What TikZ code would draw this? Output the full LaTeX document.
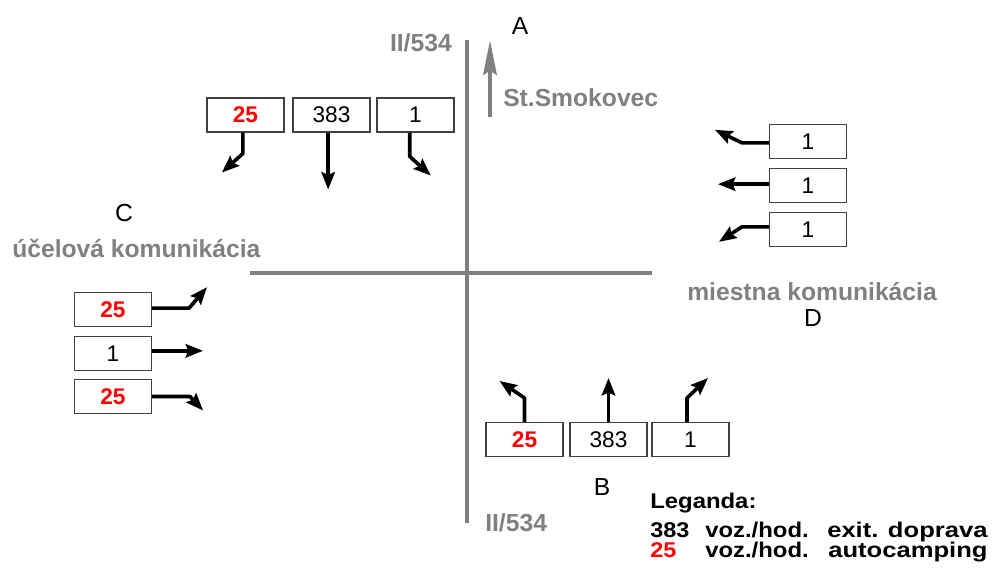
\documentclass[tikz,border=0pt]{standalone}
\usepackage{fontspec}
\usepackage{graphicx}
\setmainfont{Liberation Sans}
\usetikzlibrary{arrows.meta}
\definecolor{roadgray}{RGB}{128,128,128}
\definecolor{numred}{RGB}{255,0,0}
\begin{document}
\begin{tikzpicture}[x=0.75pt,y=-0.75pt,
 box/.style={draw=black!75, line width=0.8pt, minimum width=57.75pt, minimum height=25.5pt, inner sep=0pt, fill=white, font=\fontsize{17}{20}\selectfont},
 redn/.style={text=numred, font=\fontsize{17}{20}\selectfont\bfseries},
 flow/.style={line width=2.7pt, -{Stealth[length=13pt,width=10pt,inset=2pt]}, line join=round},
 road/.style={draw=roadgray, line width=3.2pt},
 glabel/.style={text=roadgray, font=\fontsize{18.5}{22}\selectfont\bfseries, inner sep=0pt},
 letter/.style={font=\fontsize{18.5}{22}\selectfont, inner sep=0pt},
 legtext/.style={font=\fontsize{16}{18}\selectfont\bfseries, inner sep=0pt, anchor=base west, text height=11.5pt, text depth=2.5pt},
]
\useasboundingbox (0,0) rectangle (997,568);
% roads
\coordinate (vtop) at (467,40);
\coordinate (vbot) at (467,523);
\coordinate (hl) at (250,273);
\coordinate (hr) at (652,273);
\draw[road] (vtop) -- (vbot);
\draw[road] (hl) -- (hr);
% direction arrow to St.Smokovec
\coordinate (gs) at (490,117);
\coordinate (ge) at (490,40);
\draw[draw=roadgray, fill=roadgray, line width=3.5pt, -{Stealth[length=26pt,width=10pt,inset=3pt]}] (gs) -- (ge);
% labels
\node[glabel, anchor=east] (iitop) at (452,43) {II/534};
\node[glabel, anchor=west] (iibot) at (485,523) {II/534};
\node[letter] (A) at (520,26) {A};
\node[glabel, anchor=west] (smok) at (503,98) {St.Smokovec};
\node[letter] (C) at (124,213) {C};
\node[glabel, anchor=west] (ucel) at (12,248) {účelová komunikácia};
\node[glabel, anchor=west] (mies) at (687,292) {miestna komunikácia};
\node[letter] (D) at (813,318) {D};
\node[letter] (B) at (602,487) {B};
% top boxes (A)
\node[box, redn] (t1) at (245.5,115) {25};
\node[box] (t2) at (331.5,115) {383};
\node[box] (t3) at (415.5,115) {1};
\draw[flow] ([xshift=-2pt]t1.south) -- ++(0,21) -- ++(-21,19);
\draw[flow] ([xshift=-2.5pt]t2.south) -- ++(0,57);
\draw[flow] ([xshift=-4.3pt]t3.south) -- ++(0,24) -- ++(21,19);
% right boxes (D)
\node[box] (r1) at (808,141.5) {1};
\node[box] (r2) at (808,185.5) {1};
\node[box] (r3) at (808,229.5) {1};
\draw[flow] ([yshift=-1pt]r1.west) -- ++(-27,0) -- ++(-27,-13);
\draw[flow] ([yshift=1pt]r2.west) -- ++(-51,0);
\draw[flow] ([yshift=2pt]r3.west) -- ++(-27,0) -- ++(-23,15);
% left boxes (C)
\node[box, redn] (l1) at (113,309.5) {25};
\node[box] (l2) at (113,353.5) {1};
\node[box, redn] (l3) at (113,396.5) {25};
\draw[flow] ([yshift=1pt]l1.east) -- ++(37,0) -- ++(18,-21);
\draw[flow] ([yshift=2pt]l2.east) -- ++(51,0);
\draw[flow] (l3.east) -- ++(38,0) -- ++(13,14);
% bottom boxes (B)
\node[box, redn] (b1) at (524.5,439.5) {25};
\node[box] (b2) at (608.5,439.5) {383};
\node[box] (b3) at (690.5,439.5) {1};
\draw[flow] (b1.north) -- ++(0,-24) -- ++(-25,-17);
\draw[flow] (b2.north) -- ++(0,-44);
\draw[flow] ([xshift=-2.6pt]b3.north) -- ++(0,-24) -- ++(21,-20);
% legend
\node[legtext] (leg) at (650,508) {\scalebox{1.12}[1]{Leganda:}};
\node[legtext] (l383) at (650,537) {\scalebox{1.1}[1]{383}};
\node[legtext] (lv1) at (705,537) {\scalebox{1.12}[1]{voz./hod.}};
\node[legtext] (lex) at (827,537) {\scalebox{1.2}[1]{exit. doprava}};
\node[legtext, text=numred] (l25) at (650,557) {\scalebox{1.1}[1]{25}};
\node[legtext] (lv2) at (705,557) {\scalebox{1.12}[1]{voz./hod.}};
\node[legtext] (lau) at (828,557) {\scalebox{1.2}[1]{autocamping}};
\end{tikzpicture}
\end{document}
